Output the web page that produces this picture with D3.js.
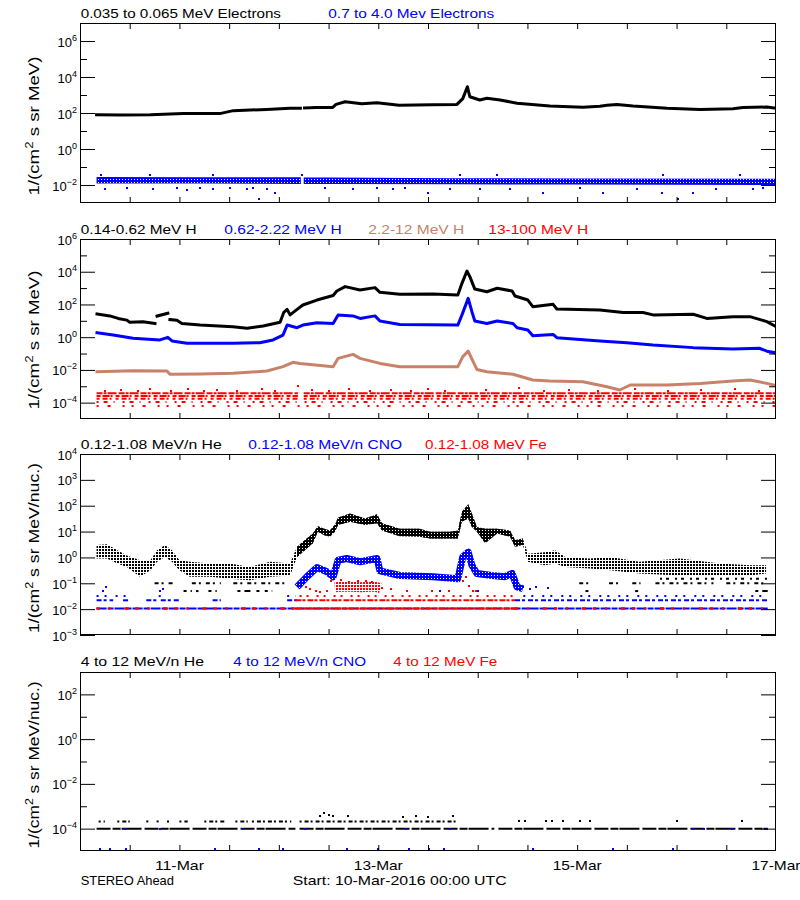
<!DOCTYPE html>
<html><head><meta charset="utf-8">
<script src="https://cdn.jsdelivr.net/npm/d3@7"></script>
<style>
html,body{margin:0;padding:0;background:#fff;}
svg{display:block;font-family:"Liberation Sans",Arial,sans-serif;}
</style></head><body>
<svg id="c" width="800" height="900"></svg>
<script>
// ---------------- DATA (hours since 10-Mar-2016 00:00 UTC) ----------------
const dayLabels = ["11-Mar","13-Mar","15-Mar","17-Mar"];
const dayHours = [24,72,120,168];
const xTickHours = [12,24,36,48,60,72,84,96,108,120,132,144,156];
const footLeft = "STEREO Ahead";
const footStart = "Start: 10-Mar-2016 00:00 UTC";

// Panel 1: electrons
const p1Titles = ["0.035 to 0.065 MeV Electrons","0.7 to 4.0 Mev Electrons"];
const p1Major = [-2,0,2,4,6], p1Minor = [-1,1,3,5];
const eLoHours = [4,10,17,25,34,37,45,50.7,53.2,53.6,54.2,57,61,61.8,64,68,71.7,77,85,91,92.4,93.5,94.1,96.5,98.2,101.4,105.5,113.4,121.4,125.5,127.2,129.6,133.5,141.7,149.7,157.6,160,165.8,168];
const eLoFlux  = [80,78,80,95,95,135,158,182,185,null,190,200,204,300,420,330,370,270,290,300,630,2900,800,525,660,525,350,245,210,240,270,300,245,182,158,174,200,214,182];
const eHiBandHours = [4,30,53.3,53.6,54,60,90,120,168];
const eHiBandTop   = [0.028,0.027,0.027,null,0.026,0.026,0.024,0.023,0.022];
const eHiBandBot   = [0.012,0.012,0.0115,null,0.0115,0.0115,0.011,0.0105,0.010];
const eHiOutHours = [6,11.3,17.7,23.3,25.8,29,32.2,36.2,40.2,41.8,43.1,45.1,47.1,59.1,66,71.6,75.6,78.4,84.1,89.3,96.5,103.8,111.8,120.7,126.3,134.4,140.4,144.4,148,153.6,162.5,164.9,5,17,32,53.5,91.7,100.6,140.8,159.3];
const eHiOutFlux  = [0.0062,0.0066,0.0058,0.0068,0.0055,0.0066,0.006,0.0064,0.0058,0.0066,0.0016,0.0062,0.0035,0.0066,0.0058,0.0064,0.006,0.0066,0.0035,0.006,0.0062,0.0058,0.0035,0.0064,0.0035,0.006,0.0035,0.0016,0.0035,0.0062,0.0058,0.0064,0.036,0.036,0.036,0.036,0.036,0.036,0.038,0.036];

// Panel 2: protons
const p2Titles = ["0.14-0.62 MeV H","0.62-2.22 MeV H","2.2-12 MeV H","13-100 MeV H"];
const p2Major = [-4,-2,0,2,4,6], p2Minor = [-3,-1,1,3,5];
const hBkHours = [4.1,7.2,9.2,11.3,12,15.2,18.1,18.35,18.6,21.2,21.45,21.7,23.4,24.6,29,36.9,40.3,44.2,48.3,49.2,50,50.7,52.4,53.8,57.2,61.1,62,64,67.6,71.2,72.4,77.2,85.2,91.2,92.2,93.4,94.1,95.3,98.2,100.7,104.3,105,108.1,109.3,114.2,115.1,125.5,131.1,135.9,138.3,148,151.3,157.6,161.7,165.8,168];
const hBkFlux  = [26,20,14,11,8.1,8.9,6.9,null,19.5,29,null,12,11,6.9,5.5,4.4,3.5,4.8,8.1,33,50,23,50,93,186,350,660,1230,760,1070,550,420,440,380,1950,11000,5000,870,600,980,660,330,186,73,102,53,46,32,32,23,25,14,18,18,9,4.4];
const hBlHours = [4.1,8,12.8,19.3,21.2,22.2,25.8,36.9,43.4,46.6,49,50,52.4,53.8,57.2,61.1,62.3,65.9,67.6,71.2,72.4,77.2,91.2,92.2,93.7,94.6,95.3,98.2,100.7,104.5,105.5,108.1,109.3,114.2,115.1,125.5,132,138.3,148,157.6,164,165.8,168];
const hBlFlux  = [1.9,1.35,0.85,0.68,0.98,0.59,0.42,0.42,0.46,0.68,1.35,5.5,3.8,5.5,7.7,6.9,23,20,14,20,9.8,6,5.5,23,235,36,9.8,6.9,9.8,6.9,3.8,2.75,1.23,1.48,0.93,0.59,0.46,0.33,0.23,0.19,0.21,0.14,0.11];
const hBrHours = [4.1,12.8,21,21.7,29,36.9,45.1,49,51.4,53.1,61.1,62.3,65.9,67.6,72.4,77.2,91.2,92.4,93.7,94.9,95.8,98.2,104.5,109.3,113.4,121.4,127.2,130.3,132.8,141.7,149.7,157.6,161.7,165.8,168];
const hBrFlux  = [0.0078,0.0089,0.0085,0.0054,0.0056,0.0062,0.0085,0.0158,0.029,0.025,0.0158,0.051,0.089,0.051,0.025,0.0158,0.0158,0.065,0.14,0.032,0.0107,0.0078,0.0054,0.0024,0.0021,0.0019,0.00093,0.00059,0.0012,0.0012,0.0015,0.0021,0.0024,0.0015,0.0011];
const hRdLevels = [3.7e-4,2.5e-4,1.7e-4,1.1e-4,6.2e-5];
const hRdSpans = [[[4,52.6],[54,168]],[[4,52.6],[54,168]],[[4,52.6],[54,168]],[[4,168]],[[4,168]]];
const hRdOutHours = [6,10,14,17,22,26,30,33,38,44,47,52.6,56,60,65,70,75,80,84,88,98,106,112,118,125,134,142,150,158,164];
const hRdOutFlux  = [5.5e-4,6e-4,5e-4,7e-4,5.5e-4,6.5e-4,5e-4,6e-4,5.5e-4,7e-4,5e-4,1e-3,6e-4,5.5e-4,6.5e-4,5e-4,6e-4,5.5e-4,7e-4,5e-4,6e-4,7.5e-4,5.5e-4,6e-4,5e-4,6.5e-4,5.5e-4,6e-4,7e-4,5.5e-4];

// Panel 3: 0.12-1.08 MeV/n ions
const p3Titles = ["0.12-1.08 MeV/n He","0.12-1.08 MeV/n CNO","0.12-1.08 MeV Fe"];
const p3Major = [-3,-2,-1,0,1,2,3,4], p3Minor = [];
const heHours = [4,6.5,9,11.3,14.5,17,18.6,20.5,22.2,24,26.5,31.4,36.2,41,45.9,50.7,52.4,54.3,56.2,57.4,59,60.3,61.5,62.3,65.2,68.8,71.7,72.9,77.2,82,84.5,89.3,91.2,92.2,93.7,94.6,95.8,97.8,100.7,103.8,105,106.9,108.1,112.2,114.7,117.1,123,128,135,144.8,154.5,161.7,165.6];
const heUpper = [3.0,3.2,1.9,1.2,0.78,0.78,1.9,3.0,1.9,0.78,0.68,0.58,0.58,0.43,0.68,0.58,2.6,4.7,8.4,16,13,11,18,35,50,32,47,21,13,13,9.8,9.8,11,58,115,50,15,13,13,11,4.7,5.4,1.4,1.6,1.9,1.05,0.91,1.05,0.68,0.91,0.58,0.5,0.5];
const heLower = [0.91,0.91,0.58,0.43,0.18,0.32,0.68,1.05,0.68,0.32,0.18,0.18,0.15,0.13,0.18,0.2,1.05,1.9,3.5,9.8,7.2,6.3,9.8,18,24,18,21,11,6.6,6.3,5.4,5.4,5.4,24,32,15,9.8,3.5,8.4,6.3,2.6,3.0,0.68,0.5,0.58,0.43,0.37,0.32,0.24,0.2,0.2,0.2,0.24];
const heRowLevels = [0.1,0.05,0.15];
const heRowSpans = [[[18,23],[27,34],[37,50],[120.5,123],[127.7,130],[133.3,135.3],[138.9,152.9],[156,166]],[[25,27],[28,28.6],[31,33],[38,43.5],[44.6,46.4],[122,123.5],[134,135.5],[163,166]],[[140,166]]];
const cnoHours = [52.4,54.8,57.2,59.6,61.1,62.3,64.4,67.6,71.7,72.4,77.2,85.2,91.2,92.4,93.7,94.6,95.8,99.4,102.6,104.3,105.5,106.9];
const cnoFlux  = [0.072,0.18,0.41,0.28,0.18,0.78,0.91,0.68,0.91,0.30,0.20,0.18,0.15,1.05,1.6,0.50,0.24,0.20,0.18,0.24,0.072,0.062];
const cnoRowLevels = [0.0105,0.022,0.032];
const cnoRowSpans = [[[4,166]],[[4,8],[10.4,12],[16,18.5],[19.5,24],[32,34],[50,52.4],[105,166]],[[4,11],[19,20],[50,52],[107,166]]];
const cnoOutHours = [5.6,6.3,19.3,20,79,87,105.5,107,108.5,110,113,79,96];
const cnoOutFlux  = [0.05,0.07,0.05,0.06,0.05,0.05,0.08,0.07,0.06,0.07,0.065,0.05,0.05];
const feHours = [61.5,64,68,71,72.5];
const feFlux  = [0.07,0.075,0.07,0.075,0.065];
const feRowLevels = [0.0105,0.022,0.032];
const feRowSpans = [[[52,105]],[[52,105]],[[53,105]]];
const feSparseSpans = [[4,52],[105,166]];
const feOutHours = [54.5,55.5,57,58,59.5,60.5,63,65,67,69,70.5,73,75,79,85,89,92.5,93.2,94,94.8,95.5];
const feOutFlux  = [0.07,0.06,0.05,0.048,0.05,0.12,0.13,0.11,0.12,0.12,0.11,0.065,0.06,0.05,0.05,0.05,0.12,0.18,0.08,0.05,0.05];

// Panel 4: 4-12 MeV/n ions
const p4Titles = ["4 to 12 MeV/n He","4 to 12 MeV/n CNO","4 to 12 MeV Fe"];
const p4Major = [-4,-2,0,2], p4Minor = [-3,-1,1];
const he4Levels = [1e-4,2.1e-4];
const he4Spans = [[[4,52],[53,100],[101,166]],[[4.5,6],[9,12],[16,17],[18.5,19.5],[21,22],[24,26],[30,35],[37.5,40.5],[41.5,51],[53,91]]];
const he4OutHours = [58,59,60,61,64.7,78,81,84,90,106,107.5,112.6,114,116.6,120.7,123.1,144,159.7];
const he4OutFlux  = [3.6e-4,4.9e-4,4e-4,3.5e-4,3.8e-4,3.4e-4,3.6e-4,3.4e-4,3.5e-4,2.1e-4,2.1e-4,2.1e-4,2.1e-4,2.1e-4,2.1e-4,2.1e-4,2.1e-4,2.1e-4];
const cno4Hours = [4.8,7.2,11.1,32.6,43.1,49.1,64.4,72,79.3,84.2,87.9,109.4,128.6,143.2,10.9,19.3,39.4,54.3,78.8,89.3,148,150.5,157.3,165.8];
const cno4Flux  = [1.26e-5,1.26e-5,1.26e-5,1.26e-5,1.26e-5,1.26e-5,1.26e-5,1.26e-5,1.26e-5,1.26e-5,1.26e-5,1.26e-5,1.26e-5,1.26e-5,1e-4,1e-4,1e-4,1e-4,1e-4,1e-4,1e-4,1e-4,1e-4,1e-4];

// ---------------- STYLE / LAYOUT ----------------
const BLUE = "#0000ff", RED = "#ff0000", BROWN = "#c8826a", BLACK = "#000";
const xL = 80, xR = 776;
const x = d3.scaleLinear().domain([0,168]).range([xL,xR]);
const svg = d3.select("#c");
svg.append("rect").attr("width",800).attr("height",900).attr("fill","#fff");
const defs = svg.append("defs");
function pattern(id,color,cells){
  const p = defs.append("pattern").attr("id",id).attr("patternUnits","userSpaceOnUse").attr("width",3).attr("height",3);
  cells.forEach(c=>p.append("rect").attr("x",c[0]).attr("y",c[1]).attr("width",c[2]).attr("height",c[3]).attr("fill",color));
}
pattern("dk",BLACK,[[0,0,2,2]]);
pattern("dkD",BLACK,[[0,0,3,2],[0,0,2,3]]);
pattern("bl",BLUE,[[0,0,2,2]]);
pattern("blD",BLUE,[[0,0,3,2],[0,0,2,3]]);
pattern("rd",RED,[[0,0,2,2]]);

function makePanel(idx,top,bottom,lo,hi,major,minor){
  const y = d3.scaleLog().domain([Math.pow(10,lo),Math.pow(10,hi)]).range([bottom,top]);
  defs.append("clipPath").attr("id","clip"+idx).append("rect")
    .attr("x",xL).attr("y",top).attr("width",xR-xL).attr("height",bottom-top);
  const g = svg.append("g").attr("clip-path",`url(#clip${idx})`);
  const ax = svg.append("g");
  const rm = s=>s.select(".domain").remove();
  const pw = e=>Math.pow(10,e);
  ax.append("g").attr("transform",`translate(${xL},0)`).call(d3.axisLeft(y).tickValues(major.map(pw)).tickSize(-15).tickFormat("")).call(rm);
  ax.append("g").attr("transform",`translate(${xL},0)`).call(d3.axisLeft(y).tickValues(minor.map(pw)).tickSize(-7).tickFormat("")).call(rm);
  ax.append("g").attr("transform",`translate(${xR},0)`).call(d3.axisRight(y).tickValues(major.map(pw)).tickSize(-15).tickFormat("")).call(rm);
  ax.append("g").attr("transform",`translate(${xR},0)`).call(d3.axisRight(y).tickValues(minor.map(pw)).tickSize(-7).tickFormat("")).call(rm);
  ax.append("g").attr("transform",`translate(0,${top})`).call(d3.axisTop(x).tickValues(xTickHours).tickSize(-6).tickFormat("")).call(rm);
  ax.append("g").attr("transform",`translate(0,${bottom})`).call(d3.axisBottom(x).tickValues(xTickHours).tickSize(-6).tickFormat("")).call(rm);
  ax.selectAll("line").attr("stroke","#000");
  ax.append("rect").attr("x",xL+0.5).attr("y",top+0.5).attr("width",xR-xL-1).attr("height",bottom-top-1)
    .attr("fill","none").attr("stroke","#000");
  major.forEach(e=>{
    const t = ax.append("text").attr("x",77).attr("y",y(pw(e))+5.5).attr("text-anchor","end")
      .attr("font-size",13).attr("fill","#000");
    t.append("tspan").text("10");
    t.append("tspan").attr("dy",-6).attr("font-size",9).text(e<0 ? "\u2212"+(-e) : String(e));
  });
  return {y,g,top,bottom};
}

function titles(list,colors,spans,baseline){
  list.forEach((s,i)=>{
    svg.append("text").attr("x",spans[i][0]).attr("y",baseline).attr("font-size",13)
      .attr("fill",colors[i]).attr("textLength",spans[i][1]-spans[i][0]).attr("lengthAdjust","spacingAndGlyphs").text(s);
  });
}
function yTitle(cy,len,tail){
  const t = svg.append("text").attr("transform",`translate(38.5,${cy}) rotate(-90)`).attr("text-anchor","middle")
    .attr("font-size",14).attr("fill","#000").attr("textLength",len).attr("lengthAdjust","spacingAndGlyphs");
  t.append("tspan").text("1/(cm");
  t.append("tspan").attr("dy",-6).attr("font-size",10).text("2");
  t.append("tspan").attr("dy",6).text(" s sr "+tail);
}
function line(p,hours,flux,color,w){
  const gen = d3.line().defined((d,i)=>flux[i]!=null).x(d=>x(d)).y((d,i)=>p.y(flux[i]));
  p.g.append("path").datum(hours).attr("d",gen).attr("fill","none").attr("stroke",color)
    .attr("stroke-width",w).attr("stroke-linejoin","round").attr("stroke-linecap","square");
}
function band(p,hours,top,bot,fill){
  const gen = d3.area().defined((d,i)=>top[i]!=null).x(d=>x(d)).y0((d,i)=>p.y(bot[i])).y1((d,i)=>p.y(top[i]));
  p.g.append("path").datum(hours).attr("d",gen).attr("fill",fill);
}
function rows(p,levels,spans,color,dashes,w){
  levels.forEach((lv,i)=>{
    spans[i].forEach(s=>{
      p.g.append("line").attr("x1",x(s[0])).attr("x2",x(s[1])).attr("y1",p.y(lv)).attr("y2",p.y(lv))
        .attr("stroke",color).attr("stroke-width",w||2).attr("stroke-dasharray",dashes[i%dashes.length]);
    });
  });
}
function points(p,hours,flux,color){
  hours.forEach((h,i)=>{
    p.g.append("rect").attr("x",Math.round(x(h))-1).attr("y",Math.round(p.y(flux[i]))-1)
      .attr("width",2).attr("height",2).attr("fill",color);
  });
}

// ---------------- PANEL 1 ----------------
const P1 = makePanel(1,23,203,-3,7,p1Major,p1Minor);
band(P1,eHiBandHours,eHiBandTop,eHiBandBot,"url(#blD)");
points(P1,eHiOutHours,eHiOutFlux,BLUE);
line(P1,eLoHours,eLoFlux,BLACK,3);
titles(p1Titles,[BLACK,BLUE],[[80.7,281],[328.3,494.3]],18.3);
yTitle(126,139,"MeV)");

// ---------------- PANEL 2 ----------------
const P2 = makePanel(2,239,419,-5,6,p2Major,p2Minor);
rows(P2,hRdLevels,hRdSpans,RED,["6 1 3 1 9 2","4 2 7 1 2 3","3 3 5 2 2 4","2 5 4 6 1 8","2 9 3 12 2 7"],2);
points(P2,hRdOutHours,hRdOutFlux,RED);
line(P2,hBrHours,hBrFlux,BROWN,3);
line(P2,hBlHours,hBlFlux,BLUE,3);
line(P2,hBkHours,hBkFlux,BLACK,3);
titles(p2Titles,[BLACK,BLUE,BROWN,RED],[[80.7,196.7],[224.3,341.7],[368.3,464.3],[488.3,588.3]],234);
yTitle(340,139,"MeV)");

// ---------------- PANEL 3 ----------------
const P3 = makePanel(3,454,635,-3,4,p3Major,p3Minor);
rows(P3,cnoRowLevels,cnoRowSpans,BLUE,["10 1 6 1","5 2 3 3","2 6 2 9"],2);
rows(P3,feRowLevels,feRowSpans,RED,["7 1 4 1","6 1 3 2","2 5 2 8"],2);
rows(P3,[0.0105,0.0105],[feSparseSpans,feSparseSpans],RED,["3 9 2 14 4 7"],2);
rows(P3,heRowLevels,heRowSpans,BLACK,["4 3 2 5","3 4 6 6","2 4 3 6"],2);
band(P3,heHours,heUpper,heLower,"url(#dk)");
const denseIdx = heHours.map((h,i)=>i).filter(i=>heHours[i]>=52&&heHours[i]<=108);
band(P3,denseIdx.map(i=>heHours[i]),denseIdx.map(i=>heUpper[i]),denseIdx.map(i=>heLower[i]),"url(#dkD)");
P3.g.append("path").datum(cnoHours).attr("d",d3.line().x(d=>x(d)).y((d,i)=>P3.y(cnoFlux[i])))
  .attr("fill","none").attr("stroke","url(#blD)").attr("stroke-width",7).attr("stroke-linejoin","round");
points(P3,cnoOutHours,cnoOutFlux,BLUE);
P3.g.append("path").datum(feHours).attr("d",d3.line().x(d=>x(d)).y((d,i)=>P3.y(feFlux[i])))
  .attr("fill","none").attr("stroke","url(#rd)").attr("stroke-width",10);
points(P3,feOutHours,feOutFlux,RED);
titles(p3Titles,[BLACK,BLUE,RED],[[80.7,221.7],[248.3,402],[425,546.7]],449.3);
yTitle(548,170,"MeV/nuc.)");

// ---------------- PANEL 4 ----------------
const P4 = makePanel(4,672,851,-5,3,p4Major,p4Minor);
rows(P4,he4Levels,he4Spans,BLACK,["14 2 8 1 20 3","2 3 4 2"],2);
points(P4,he4OutHours,he4OutFlux,BLACK);
points(P4,cno4Hours,cno4Flux,BLUE);
titles(p4Titles,[BLACK,BLUE,RED],[[80.7,204],[233.3,366],[393.3,497.3]],665.7);
yTitle(765,167,"MeV/nuc.)");

// ---------------- FOOTER ----------------
dayLabels.forEach((s,i)=>{
  svg.append("text").attr("x",x(dayHours[i])).attr("y",870).attr("text-anchor","middle")
    .attr("font-size",13).attr("textLength",49).attr("lengthAdjust","spacingAndGlyphs").text(s);
});
svg.append("text").attr("x",80.7).attr("y",885).attr("font-size",13).attr("textLength",93.3)
  .attr("lengthAdjust","spacingAndGlyphs").text(footLeft);
svg.append("text").attr("x",292.7).attr("y",885).attr("font-size",13).attr("textLength",214)
  .attr("lengthAdjust","spacingAndGlyphs").text(footStart);
</script></body></html>
